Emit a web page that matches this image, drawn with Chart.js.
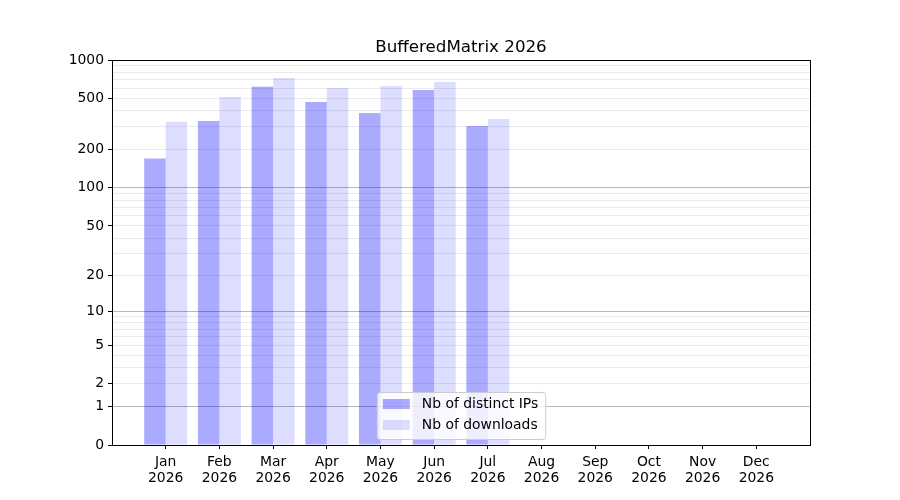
<!DOCTYPE html>
<html>
<head>
<meta charset="utf-8">
<script src="https://cdn.jsdelivr.net/npm/chart.js@4/dist/chart.umd.min.js"></script>
<style>
  html, body { margin: 0; padding: 0; background: #fff; }
  #wrap { width: 900px; height: 500px; }
</style>
</head>
<body>
<div id="wrap"><canvas id="chart" width="900" height="500"></canvas></div>
<script>
// data
const MONTHS = ['Jan', 'Feb', 'Mar', 'Apr', 'May', 'Jun', 'Jul', 'Aug', 'Sep', 'Oct', 'Nov', 'Dec'];
const YEAR = '2026';
const TITLE = 'BufferedMatrix 2026';
const DISTINCT_IPS = [170, 334, 617, 471, 386, 584, 305];
const DOWNLOADS = [329, 515, 725, 606, 628, 675, 346];
const Y_LABELS = [0, 1, 2, 5, 10, 20, 50, 100, 200, 500, 1000];
const Y_MAJOR = [1, 10, 100];
const Y_GRID = [0, 1, 2, 3, 4, 5, 6, 7, 8, 9, 10, 20, 30, 40, 50, 60, 70, 80, 90,
                100, 200, 300, 400, 500, 600, 700, 800, 900, 1000];

const FONT = '"DejaVu Sans", sans-serif';
const tf = v => Math.log10(1 + v);
const untf = v => Math.round(Math.pow(10, v) - 1);
const toPoints = arr => arr.map((v, i) => ({ x: i, y: tf(v) }));

// frame, title and legend, placed against the plot area
const framePlugin = {
    id: 'frame',
    afterDraw(chart) {
        const ctx = chart.ctx;
        const a = chart.chartArea;
        const cx = (a.left + a.right) / 2;
        ctx.save();
        ctx.strokeStyle = '#000';
        ctx.lineWidth = 1;
        ctx.strokeRect(Math.round(a.left) + 0.5, Math.round(a.top) + 0.5,
                       Math.round(a.right - a.left), Math.round(a.bottom - a.top));

        // title
        ctx.fillStyle = '#000';
        ctx.font = '16.7px ' + FONT;
        ctx.textAlign = 'center';
        ctx.textBaseline = 'middle';
        ctx.fillText(TITLE, cx, a.top - 12);

        // legend box (lower center)
        ctx.font = '13.9px ' + FONT;
        const sets = chart.data.datasets;
        const textW = Math.max(...sets.map(d => ctx.measureText(d.label).width));
        const w = 6 + 27 + 12 + textW + 7;
        const h = 47;
        const x = cx - w / 2;
        const y = a.bottom - 6 - h;
        ctx.beginPath();
        ctx.roundRect(x + 0.5, y + 0.5, w, h, 3);
        ctx.fillStyle = 'rgba(255,255,255,0.8)';
        ctx.fill();
        ctx.strokeStyle = '#cccccc';
        ctx.stroke();
        sets.forEach((d, i) => {
            const cy = y + 12 + i * 21;
            ctx.fillStyle = d.backgroundColor;
            ctx.fillRect(x + 6, cy - 5, 27, 10);
            ctx.fillStyle = '#000';
            ctx.textBaseline = 'middle';
            ctx.textAlign = 'left';
            ctx.fillText(d.label, x + 45, cy);
        });
        ctx.restore();
    }
};

new Chart(document.getElementById('chart'), {
    type: 'bar',
    data: {
        datasets: [
            {
                label: 'Nb of distinct IPs',
                data: toPoints(DISTINCT_IPS),
                backgroundColor: 'rgba(0,0,255,0.333)',
                categoryPercentage: 0.8,
                barPercentage: 1.0
            },
            {
                label: 'Nb of downloads',
                data: toPoints(DOWNLOADS),
                backgroundColor: 'rgba(0,0,255,0.133)',
                categoryPercentage: 0.8,
                barPercentage: 1.0
            }
        ]
    },
    options: {
        responsive: false,
        animation: false,
        layout: { padding: { left: 0, right: 90, top: 60, bottom: 0 } },
        plugins: {
            legend: { display: false },
            tooltip: { enabled: false },
            title: { display: false }
        },
        scales: {
            x: {
                type: 'linear',
                min: -1,
                max: 12,
                offset: false,
                border: { display: false },
                grid: { offset: false, drawOnChartArea: false, drawTicks: true, tickLength: 4, tickColor: '#000' },
                afterBuildTicks(scale) {
                    scale.ticks = MONTHS.map((m, i) => ({ value: i }));
                },
                afterFit(scale) { scale.height = 55; },
                ticks: {
                    autoSkip: false,
                    maxRotation: 0,
                    padding: 5,
                    color: '#000',
                    font: { family: FONT, size: 13.9, lineHeight: 1.17 },
                    callback: v => [MONTHS[v], YEAR]
                }
            },
            y: {
                type: 'linear',
                min: 0,
                max: tf(1000),
                border: { display: false },
                grid: {
                    drawTicks: true,
                    tickLength: 4,
                    color: ctx => {
                        const t = untf(ctx.tick.value);
                        return Y_MAJOR.includes(t) ? '#b8b8b8' : '#ebebeb';
                    },
                    tickColor: ctx => Y_LABELS.includes(untf(ctx.tick.value)) ? '#000' : 'rgba(0,0,0,0)'
                },
                afterBuildTicks(scale) {
                    scale.ticks = Y_GRID.map(t => ({ value: tf(t) }));
                },
                afterFit(scale) { scale.width = 112; },
                ticks: {
                    autoSkip: false,
                    padding: 4,
                    color: '#000',
                    font: { family: FONT, size: 13.9 },
                    callback: v => {
                        const t = untf(v);
                        return Y_LABELS.includes(t) ? String(t) : '';
                    }
                }
            }
        }
    },
    plugins: [framePlugin]
});
</script>
</body>
</html>
